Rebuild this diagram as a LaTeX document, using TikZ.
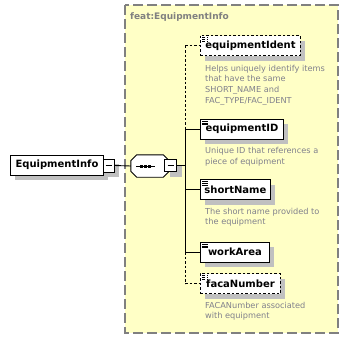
\documentclass[tikz,border=0pt]{standalone}
\usepackage{fontspec}
\setmainfont{DejaVu Sans}
\usetikzlibrary{positioning,shadows}

\definecolor{schemaYellow}{RGB}{255,255,198}
\definecolor{frameGray}{RGB}{128,128,128}
\definecolor{noteGray}{RGB}{128,128,140}
\definecolor{shadowGray}{RGB}{192,192,192}

\begin{document}
\begin{tikzpicture}[x=1pt,y=-1pt,
  boxShadow/.style={drop shadow={shadow xshift=5pt,shadow yshift=-5pt,fill=shadowGray,opacity=1}},
  elemBox/.style={draw,fill=white,line width=0.9pt,boxShadow,anchor=west,
    font=\bfseries\fontsize{10}{11}\selectfont,minimum height=20pt,inner xsep=4pt,inner ysep=0pt,
    path picture={\foreach \k in {0,1,2}
      \draw[line width=0.6pt] ([xshift=2pt,yshift={-2pt-1.8pt*\k}]path picture bounding box.north west) -- ++(6pt,0pt);}},
  optBox/.style={elemBox,dash pattern=on 2.5pt off 2pt},
  minusBox/.style={draw,fill=white,line width=0.9pt,boxShadow,inner sep=0pt,
    path picture={\draw[line width=0.9pt] ([xshift=-3pt]path picture bounding box.center) -- ([xshift=3pt]path picture bounding box.center);}},
  connSolid/.style={line width=0.9pt},
  connDashed/.style={line width=0.9pt,dash pattern=on 2.5pt off 2pt},
  noteText/.style={anchor=north west,inner sep=0pt,align=left,text=noteGray,
    font=\fontsize{8.2}{10.6}\selectfont}]

  \useasboundingbox (0,0) rectangle (349,340);

  % Type frame
  \fill[schemaYellow] (125,5) rectangle (338,333);
  \draw[frameGray,line width=1.3pt,dash pattern=on 10pt off 4pt] (125,5) rectangle (338,333);
  \node[anchor=west,inner sep=0pt,text=frameGray,font=\bfseries\fontsize{9}{10}\selectfont] (title) at (130,17) {feat:EquipmentInfo};

  % Root element and sequence
  \node[elemBox,path picture={},minimum width=93pt] (root) at (10,165) {EquipmentInfo};
  \node[minusBox,minimum width=11pt,minimum height=13pt] (rootMinus) at (108.5,165.5) {};
  \node[inner sep=0pt,minimum width=38pt,minimum height=22pt] (seq) at (150,166) {};
  \fill[shadowGray,shift={(5,5)}] ([xshift=6pt]seq.north west) -- ([xshift=-6pt]seq.north east)
    -- ([yshift=-6pt]seq.north east) -- ([yshift=6pt]seq.south east) -- ([xshift=-6pt]seq.south east)
    -- ([xshift=6pt]seq.south west) -- ([yshift=6pt]seq.south west) -- ([yshift=-6pt]seq.north west) -- cycle;
  \draw[fill=white,line width=0.9pt] ([xshift=6pt]seq.north west) -- ([xshift=-6pt]seq.north east)
    -- ([yshift=-6pt]seq.north east) -- ([yshift=6pt]seq.south east) -- ([xshift=-6pt]seq.south east)
    -- ([xshift=6pt]seq.south west) -- ([yshift=6pt]seq.south west) -- ([yshift=-6pt]seq.north west) -- cycle;
  \draw[line width=0.9pt] ([xshift=-14pt]seq.center) -- ([xshift=5pt]seq.center);
  \foreach \d in {-9,-5,-1}
    \fill ([xshift=\d pt]seq.center) +(-1.5pt,-1.5pt) rectangle +(1.5pt,1.5pt);
  \node[minusBox,minimum size=12pt] (seqMinus) at (170.5,165.5) {};

  \draw[connSolid] (rootMinus.east) -- (seq.west);
  \coordinate (trunk) at (185,165.5);
  \draw[connSolid] (seqMinus.east) -- (trunk);

  % Child elements
  \foreach \nm/\yy/\ww/\txt/\sty in {ident/45.5/100/equipmentIdent/optBox,
      id/129/83/equipmentID/elemBox, short/189.5/69/shortName/elemBox,
      work/252/69/workArea/elemBox, faca/283.5/80/facaNumber/optBox}
    \node[\sty,minimum width=\ww pt] (\nm) at (200,\yy) {\txt};

  % Trunk and branches
  \draw[connDashed] (trunk |- ident.west) -- (trunk |- id.west);
  \draw[connSolid] (trunk |- id.west) -- (trunk |- work.west);
  \draw[connDashed] (trunk |- work.west) -- (trunk |- faca.west);
  \foreach \nm/\sty in {ident/connDashed,id/connSolid,short/connSolid,work/connSolid,faca/connDashed}
    \draw[\sty] (trunk |- \nm.west) -- (\nm.west);

  % Annotations
  \node[noteText] (identNote) at ([shift={(5,9)}]ident.south west)
    {Helps uniquely identify items\\that have the same\\SHORT\_NAME and\\FAC\_TYPE/FAC\_IDENT};
  \node[noteText] (idNote) at ([shift={(5,8)}]id.south west)
    {Unique ID that references a\\piece of equipment};
  \node[noteText] (shortNote) at ([shift={(5,8)}]short.south west)
    {The short name provided to\\the equipment};
  \node[noteText] (facaNote) at ([shift={(5,8)}]faca.south west)
    {FACANumber associated\\with equipment};
\end{tikzpicture}
\end{document}
